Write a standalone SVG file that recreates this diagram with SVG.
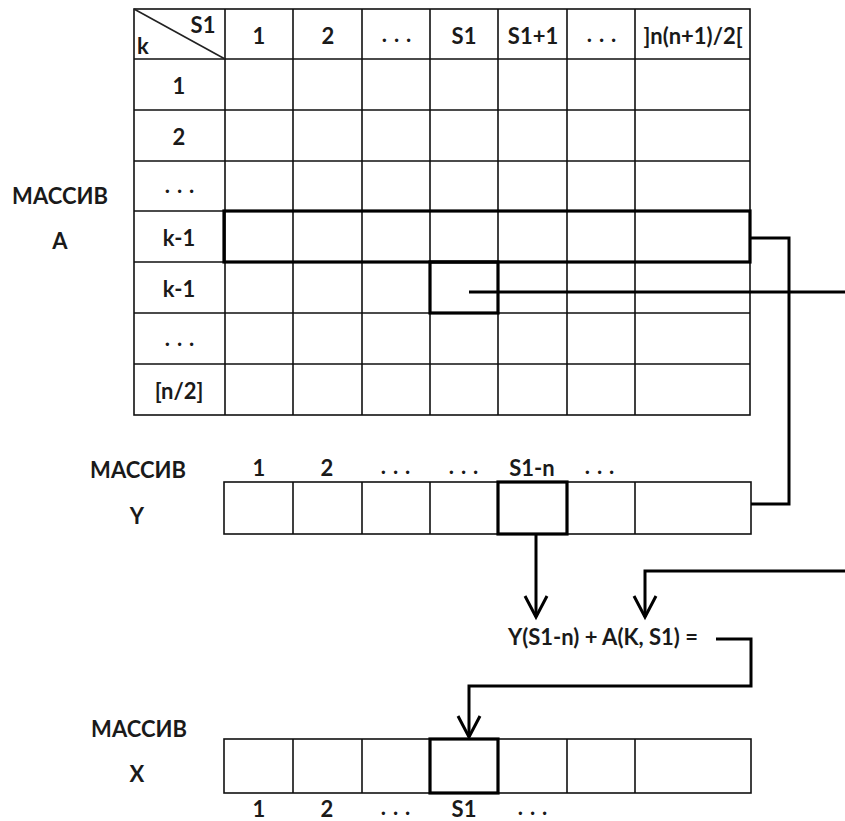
<svg xmlns="http://www.w3.org/2000/svg" width="845" height="821" viewBox="0 0 845 821">
  <defs>
    <style>
      .grid{fill:none;stroke:#111;stroke-width:1.6}
      .thick{fill:none;stroke:#000;stroke-width:3.2}
      .conn{fill:none;stroke:#000;stroke-width:3}
      text{font-family:Lato,"Liberation Sans",sans-serif;font-weight:bold;font-size:22px;fill:#1a1a1a;text-anchor:middle;dominant-baseline:central}
      .dots{letter-spacing:7px}
    </style>
    <marker id="vhead" viewBox="-22 -13 24 26" refX="0" refY="0" markerWidth="24" markerHeight="26" markerUnits="userSpaceOnUse" orient="auto" overflow="visible">
      <path d="M-21,-11 L0,0 L-21,11" fill="none" stroke="#000" stroke-width="3"/>
    </marker>
  </defs>
  <rect width="845" height="821" fill="#fff"/>

  <!-- Array A: 2D table -->
  <g id="array-a">
    <rect class="grid" x="134" y="9" width="616" height="406"/>
    <path class="grid" d="M225,9V415 M293,9V415 M362,9V415 M430,9V415 M498,9V415 M567,9V415 M635,9V415
      M134,59H750 M134,110H750 M134,161H750 M134,211H750 M134,262H750 M134,313H750 M134,364H750"/>
    <line x1="134" y1="9" x2="225" y2="59" stroke="#222" stroke-width="1.6"/>
    <text x="203" y="24">S1</text>
    <text x="143" y="45">k</text>
    <text x="259" y="35">1</text>
    <text x="328" y="35">2</text>
    <text class="dots" x="400" y="33">...</text>
    <text x="464" y="35">S1</text>
    <text x="533" y="35">S1+1</text>
    <text class="dots" x="605" y="33">...</text>
    <text x="693" y="35">]n(n+1)/2[</text>
    <text x="179" y="85">1</text>
    <text x="179" y="136">2</text>
    <text class="dots" x="183" y="184">...</text>
    <text x="179" y="237">k-1</text>
    <text x="179" y="288">k-1</text>
    <text class="dots" x="183" y="337">...</text>
    <text x="179" y="390">[n/2]</text>
    <rect class="thick" x="224" y="211" width="526" height="51"/>
    <rect class="thick" x="430" y="262" width="68" height="51"/>
  </g>
  <g id="label-a">
    <text x="60" y="195">МАССИВ</text>
    <text x="60" y="240">A</text>
  </g>

  <!-- Array Y -->
  <g id="array-y">
    <rect class="grid" x="224" y="482" width="527" height="52"/>
    <path class="grid" d="M293,482V534 M362,482V534 M430,482V534 M498,482V534 M567,482V534 M635,482V534"/>
    <rect class="thick" x="498" y="482" width="69" height="52"/>
    <text x="259" y="467">1</text>
    <text x="327" y="467">2</text>
    <text class="dots" x="399" y="465">...</text>
    <text class="dots" x="467" y="465">...</text>
    <text x="532" y="467">S1-n</text>
    <text class="dots" x="603" y="465">...</text>
  </g>
  <g id="label-y">
    <text x="138" y="469">МАССИВ</text>
    <text x="137" y="515">Y</text>
  </g>

  <!-- Formula -->
  <g id="formula">
    <text x="603" y="636">Y(S1-n) + A(K, S1) =</text>
  </g>

  <!-- Array X -->
  <g id="array-x">
    <rect class="grid" x="224" y="739" width="527" height="54"/>
    <path class="grid" d="M293,739V793 M362,739V793 M430,739V793 M498,739V793 M567,739V793 M635,739V793"/>
    <rect class="thick" x="430" y="739" width="68" height="54"/>
    <text x="259" y="808">1</text>
    <text x="327" y="808">2</text>
    <text class="dots" x="399" y="806">...</text>
    <text x="464" y="808">S1</text>
    <text class="dots" x="536" y="806">...</text>
  </g>
  <g id="label-x">
    <text x="139" y="728">МАССИВ</text>
    <text x="137" y="773">X</text>
  </g>

  <!-- Connectors -->
  <g id="connectors">
    <path class="conn" d="M750,238H789V504H751"/>
    <path class="conn" d="M469,292H845"/>
    <path class="conn" d="M845,571H645V617" marker-end="url(#vhead)"/>
    <path class="conn" d="M536,534V617" marker-end="url(#vhead)"/>
    <path class="conn" d="M716,639H751V686H469V737" marker-end="url(#vhead)"/>
  </g>
</svg>
